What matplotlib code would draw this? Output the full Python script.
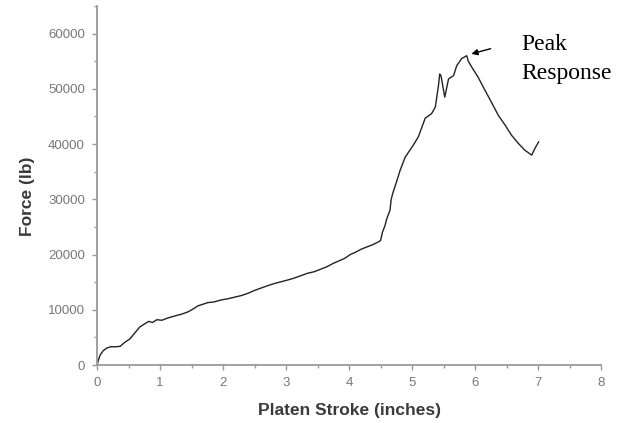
import matplotlib.pyplot as plt
from matplotlib.ticker import MultipleLocator

# platen stroke (inches) and force (lb)
stroke = [
    0.00, 0.02, 0.05, 0.10, 0.16, 0.22, 0.30, 0.37, 0.44, 0.52,
    0.60, 0.68, 0.75, 0.82, 0.88, 0.95, 1.03, 1.12, 1.24, 1.34,
    1.44, 1.52, 1.60, 1.68, 1.76, 1.85, 1.98, 2.08, 2.19, 2.30,
    2.40, 2.50, 2.62, 2.72, 2.83, 2.93, 3.03, 3.12, 3.22, 3.34,
    3.45, 3.54, 3.65, 3.75, 3.85, 3.93, 4.02, 4.10, 4.20, 4.29,
    4.38, 4.45, 4.50, 4.53, 4.57, 4.60, 4.65, 4.67, 4.70, 4.75,
    4.81, 4.89, 5.02, 5.10, 5.21, 5.31, 5.37, 5.42, 5.44, 5.46,
    5.52, 5.58, 5.66, 5.71, 5.79, 5.87, 5.89, 5.95, 6.05, 6.16,
    6.26, 6.37, 6.48, 6.58, 6.69, 6.79, 6.90, 6.95, 7.01,
]
force = [
    0, 800, 1800, 2600, 3100, 3300, 3300, 3400, 4100, 4700,
    5800, 6900, 7400, 7900, 7700, 8200, 8100, 8500, 8900, 9200,
    9600, 10100, 10700, 11000, 11300, 11400, 11800, 12000, 12300, 12600,
    13000, 13500, 14000, 14400, 14800, 15100, 15400, 15700, 16100, 16600,
    16900, 17300, 17800, 18400, 18900, 19300, 20000, 20400, 21000, 21400,
    21800, 22200, 22500, 24000, 25200, 26500, 28000, 30000, 31300, 33000,
    35200, 37600, 39800, 41300, 44700, 45500, 46700, 50600, 52700, 52400,
    48500, 51800, 52400, 54200, 55500, 56000, 55100, 53900, 52100, 49700,
    47600, 45200, 43400, 41600, 40100, 38900, 38000, 39200, 40400,
]

# arrow pointing at the peak
arrow_tip = (5.90, 56200)
arrow_tail = (6.29, 57400)

fig = plt.figure(figsize=(6.21, 4.23), dpi=100)
ax = fig.add_axes([0.1562, 0.1371, 0.8116, 0.8487])

ax.plot(stroke, force, color="#222222", lw=1.0)

ax.annotate(
    "",
    xy=arrow_tip,
    xytext=arrow_tail,
    arrowprops=dict(arrowstyle="-|>", color="black", lw=1.0, mutation_scale=9),
)

fig.text(521 / 621, 1 - 50 / 423, "Peak", family="Liberation Serif",
         fontsize=17, va="baseline", ha="left")
fig.text(521 / 621, 1 - 79 / 423, "Response", family="Liberation Serif",
         fontsize=17, va="baseline", ha="left")

ax.set_xlim(0, 8)
ax.set_ylim(0, 65000)
ax.xaxis.set_major_locator(MultipleLocator(1))
ax.xaxis.set_minor_locator(MultipleLocator(0.5))
ax.yaxis.set_major_locator(MultipleLocator(10000))
ax.yaxis.set_minor_locator(MultipleLocator(5000))

for side in ("top", "right"):
    ax.spines[side].set_visible(False)
for side in ("left", "bottom"):
    ax.spines[side].set_color("#999999")
    ax.spines[side].set_linewidth(1.3)

ax.tick_params(which="major", length=3.6, width=1.0, color="#999999",
               labelcolor="#777777", labelsize=9.5, pad=5)
ax.tick_params(which="minor", length=2.2, width=1.0, color="#999999")
for lab in ax.get_xticklabels() + ax.get_yticklabels():
    lab.set_family("Liberation Sans")

ax.set_xlabel("Platen Stroke (inches)", family="Liberation Sans",
              fontsize=12.5, fontweight="bold", color="#3a3a3a")
ax.set_ylabel("Force (lb)", family="Liberation Sans",
              fontsize=12.5, fontweight="bold", color="#3a3a3a")
ax.xaxis.set_label_coords(0.5, -0.105)
ax.yaxis.set_label_coords(-0.123, 0.47)

fig.savefig("out.png", dpi=100)
